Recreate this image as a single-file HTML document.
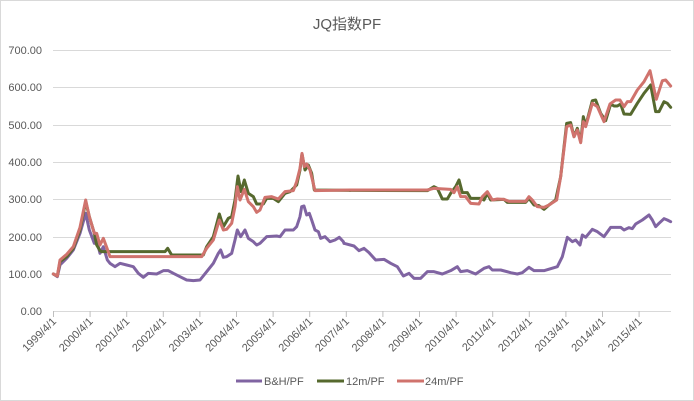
<!DOCTYPE html>
<html><head><meta charset="utf-8"><style>
body{margin:0;background:#fff;}
svg{display:block;font-family:"Liberation Sans","Noto Sans CJK SC",sans-serif;}
</style></head><body>
<svg width="694" height="401" viewBox="0 0 694 401" xmlns="http://www.w3.org/2000/svg">
<rect x="0.5" y="0.5" width="693" height="400" fill="#fff" stroke="#d9d9d9"/>
<text x="347" y="29" text-anchor="middle" font-size="15" fill="#595959">JQ指数PF</text>
<g stroke="#d9d9d9" stroke-width="1">
<line x1="53" x2="671" y1="50.5" y2="50.5"/>
<line x1="53" x2="671" y1="87.5" y2="87.5"/>
<line x1="53" x2="671" y1="125.5" y2="125.5"/>
<line x1="53" x2="671" y1="162.5" y2="162.5"/>
<line x1="53" x2="671" y1="199.5" y2="199.5"/>
<line x1="53" x2="671" y1="237.5" y2="237.5"/>
<line x1="53" x2="671" y1="274.5" y2="274.5"/>
<line x1="53" x2="671" y1="311.5" y2="311.5"/>
</g>
<g stroke="#bfbfbf" stroke-width="1">
<line x1="53.5" x2="53.5" y1="311" y2="317"/><line x1="90.1" x2="90.1" y1="311" y2="317"/><line x1="126.7" x2="126.7" y1="311" y2="317"/><line x1="163.3" x2="163.3" y1="311" y2="317"/><line x1="199.9" x2="199.9" y1="311" y2="317"/><line x1="236.5" x2="236.5" y1="311" y2="317"/><line x1="273.1" x2="273.1" y1="311" y2="317"/><line x1="309.7" x2="309.7" y1="311" y2="317"/><line x1="346.3" x2="346.3" y1="311" y2="317"/><line x1="382.9" x2="382.9" y1="311" y2="317"/><line x1="419.5" x2="419.5" y1="311" y2="317"/><line x1="456.1" x2="456.1" y1="311" y2="317"/><line x1="492.7" x2="492.7" y1="311" y2="317"/><line x1="529.3" x2="529.3" y1="311" y2="317"/><line x1="565.9" x2="565.9" y1="311" y2="317"/><line x1="602.5" x2="602.5" y1="311" y2="317"/><line x1="639.1" x2="639.1" y1="311" y2="317"/>
</g>
<g font-size="11" fill="#595959" text-anchor="end">
<text x="42" y="54">700.00</text><text x="42" y="91">600.00</text><text x="42" y="129">500.00</text><text x="42" y="166">400.00</text><text x="42" y="203">300.00</text><text x="42" y="241">200.00</text><text x="42" y="278">100.00</text><text x="42" y="315">0.00</text>
</g>
<g font-size="11" fill="#595959" text-anchor="end">
<text transform="translate(57,322) rotate(-45)">1999/4/1</text>
<text transform="translate(93.6,322) rotate(-45)">2000/4/1</text>
<text transform="translate(130.2,322) rotate(-45)">2001/4/1</text>
<text transform="translate(166.8,322) rotate(-45)">2002/4/1</text>
<text transform="translate(203.4,322) rotate(-45)">2003/4/1</text>
<text transform="translate(240,322) rotate(-45)">2004/4/1</text>
<text transform="translate(276.6,322) rotate(-45)">2005/4/1</text>
<text transform="translate(313.2,322) rotate(-45)">2006/4/1</text>
<text transform="translate(349.8,322) rotate(-45)">2007/4/1</text>
<text transform="translate(386.4,322) rotate(-45)">2008/4/1</text>
<text transform="translate(423,322) rotate(-45)">2009/4/1</text>
<text transform="translate(459.6,322) rotate(-45)">2010/4/1</text>
<text transform="translate(496.2,322) rotate(-45)">2011/4/1</text>
<text transform="translate(532.8,322) rotate(-45)">2012/4/1</text>
<text transform="translate(569.4,322) rotate(-45)">2013/4/1</text>
<text transform="translate(606,322) rotate(-45)">2014/4/1</text>
<text transform="translate(642.6,322) rotate(-45)">2015/4/1</text>
</g>
<g transform="scale(0.333333)" fill="none" stroke-width="9" stroke-linejoin="round" stroke-linecap="round">
<!-- B&H -->
<polyline stroke="#8064a2" points="160,822 172,830 180,795 200,775 220,750 240,700 257,640 268,690 283,730 290,720 300,760 310,740 322,780 330,790 345,800 360,790 380,795 400,800 415,820 430,832 445,820 470,822 490,812 505,812 520,820 540,830 560,840 580,842 600,840 620,815 640,790 655,760 662,750 670,772 680,770 695,760 705,720 712,690 722,710 735,690 745,715 760,725 770,735 780,730 800,710 830,708 840,710 855,690 880,690 890,680 900,650 905,620 912,618 920,645 928,640 935,660 945,690 955,695 962,715 975,710 990,725 1005,720 1018,712 1030,725 1032,730"/>
<polyline transform="translate(1032,0)" stroke="#8064a2" points="0,730 30,738 45,752 60,745 75,758 95,780 120,778 140,790 160,800 178,828 195,820 210,835 230,835 250,815 270,815 295,822 320,812 340,800 350,815 370,812 395,822 420,805 435,800 445,810 470,810 500,818 520,822 535,818 555,802 570,812 600,812 620,806 640,800 655,770 670,712 685,725 695,720 708,735 715,705 725,712 745,688 760,695 780,710 800,682 830,682 840,690 855,683 865,686 875,672 895,660 915,645 925,660 935,680 945,670 960,656 970,660 980,665"/>
<!-- 12m -->
<polyline stroke="#56692e" points="160,822 172,828 180,785 200,770 220,745 240,690 257,605 268,650 283,700 290,735 300,752 305,755 495,755 503,745 515,765 610,765 620,740 640,710 658,642 670,680 685,655 695,650 705,600 714,528 723,575 733,540 745,580 760,590 770,612 790,612 800,595 820,595 835,605 855,580 870,575 890,555 900,510 906,462 915,510 925,495 935,520 943,570 1050,571"/>
<polyline transform="translate(1032,0)" stroke="#56692e" points="18,571 250,572 270,560 280,565 295,597 310,597 320,580 335,560 345,540 355,578 370,578 380,595 410,595 420,600 430,580 440,600 480,598 490,607 545,607 555,595 570,615 585,617 600,628 615,615 635,600 650,530 668,370 680,368 690,410 700,385 710,425 718,350 725,378 745,302 755,300 770,340 785,362 800,312 810,318 820,318 830,312 840,342 860,343 880,310 900,280 920,255 935,335 945,335 960,305 970,310 980,322"/>
<!-- 24m -->
<polyline stroke="#d0736d" points="160,822 172,828 180,780 200,763 220,740 240,682 257,600 268,650 283,700 290,700 300,735 310,715 320,742 330,770 605,770 620,745 640,720 658,660 670,690 680,688 695,670 705,620 712,560 720,600 733,568 745,605 760,620 770,637 780,630 795,592 815,590 835,597 855,575 880,572 890,545 900,505 906,460 913,500 920,492 930,510 945,572 1050,570"/>
<polyline transform="translate(1032,0)" stroke="#d0736d" points="18,570 250,570 270,565 320,568 330,578 340,560 350,590 365,590 380,610 405,612 415,590 430,575 445,600 460,597 480,598 495,604 545,604 555,590 565,600 580,620 600,622 615,615 638,600 650,530 668,380 680,375 690,410 700,390 710,428 718,365 725,380 745,310 760,320 780,365 798,312 815,300 828,300 840,320 850,305 860,305 880,270 900,245 918,212 937,298 955,242 965,240 980,258"/>
</g>
<g stroke-width="3">
<line x1="236" x2="262" y1="381" y2="381" stroke="#8064a2"/>
<line x1="317" x2="344" y1="381" y2="381" stroke="#56692e"/>
<line x1="397" x2="424" y1="381" y2="381" stroke="#d0736d"/>
</g>
<g font-size="11" fill="#595959">
<text x="264" y="385">B&amp;H/PF</text>
<text x="346" y="385">12m/PF</text>
<text x="425" y="385">24m/PF</text>
</g>
</svg>
</body></html>
